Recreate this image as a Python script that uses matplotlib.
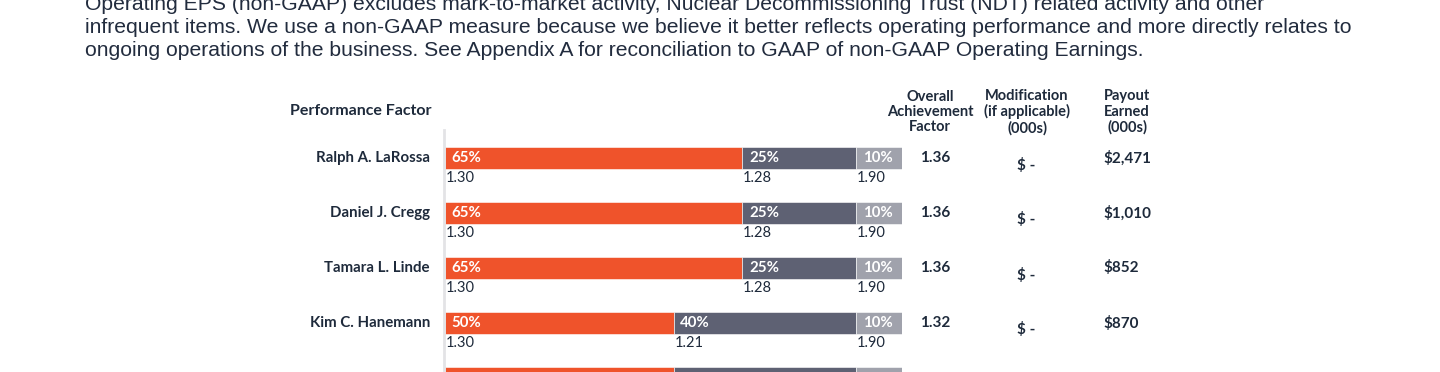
import matplotlib
matplotlib.use("Agg")
import matplotlib.pyplot as plt
import matplotlib.transforms as mtransforms

# --- data ---
intro_lines = [
    "Operating EPS (non-GAAP) excludes mark-to-market activity, Nuclear Decommissioning Trust (NDT) related activity and other",
    "infrequent items. We use a non-GAAP measure because we believe it better reflects operating performance and more directly relates to",
    "ongoing operations of the business. See Appendix A for reconciliation to GAAP of non-GAAP Operating Earnings.",
]
names = ["Ralph A. LaRossa", "Daniel J. Cregg", "Tamara L. Linde", "Kim C. Hanemann"]
# weights of the three performance measures (%), last row is cut off at the bottom
w_eps = [65, 65, 65, 50, 50]
w_mid = [25, 25, 25, 40, 40]
w_last = [10, 10, 10, 10, 10]
# achievement factors for each measure
f_eps = ["1.30", "1.30", "1.30", "1.30"]
f_mid = ["1.28", "1.28", "1.28", "1.21"]
f_last = ["1.90", "1.90", "1.90", "1.90"]
overall = ["1.36", "1.36", "1.36", "1.32"]
modification = ["$ -", "$ -", "$ -", "$ -"]
payout = ["$2,471", "$1,010", "$852", "$870"]

ORANGE = "#EF532B"
DARK = "#5E6173"
LIGHT = "#A0A2AC"
NAVY = "#1E2A3B"
W, H = 1440, 372

fig = plt.figure(figsize=(W / 100, H / 100), dpi=100)
fig.patch.set_facecolor("white")

# intro paragraph
for i, line in enumerate(intro_lines):
    fig.text(85 / W, 1 - (4 + 23.5 * i) / H, line, family="Liberation Sans",
             fontsize=15.2, color="#222C3E", va="center", ha="left")

# bar axes: x in percent, y in row index
top_px, bot_px, row0, step = 130, 372, 158, 55
ax = fig.add_axes([445 / W, 0, (902 - 445) / W, (bot_px - top_px) / H])
ax.set_xlim(0, 100)
ax.set_ylim((bot_px - row0) / step, (top_px - row0) / step)
for s in ["top", "right", "bottom"]:
    ax.spines[s].set_visible(False)
ax.spines["left"].set_color("#E3E3E6")
ax.spines["left"].set_linewidth(2)
ax.spines["left"].set_position(("outward", 1))
ax.set_xticks([])
ax.set_yticks([])

rows = list(range(len(w_eps)))
left_mid = [a for a in w_eps]
left_last = [a + b for a, b in zip(w_eps, w_mid)]
bh = 22 / step
ax.barh(rows, w_eps, height=bh, color=ORANGE, edgecolor="white", linewidth=0.4)
ax.barh(rows, w_mid, left=left_mid, height=bh, color=DARK, edgecolor="white", linewidth=0.4)
ax.barh(rows, w_last, left=left_last, height=bh, color=LIGHT, edgecolor="white", linewidth=0.4)

font = dict(family="Lato", color=NAVY)
for i in range(len(names)):
    starts = [0, left_mid[i], left_last[i]]
    pcts = [w_eps[i], w_mid[i], w_last[i]]
    for x0, p in zip(starts, pcts):
        ax.text(x0 + 1.5, i, f"{p}%", color="white", fontsize=10.8, fontweight="bold",
                family="Lato", va="center", ha="left")
    for x0, lab in zip(starts, [f_eps[i], f_mid[i], f_last[i]]):
        ax.text(x0 + 0.2, i + 20 / step, lab, fontsize=10.5, va="center", ha="left", **font)

# side columns
tr = mtransforms.blended_transform_factory(fig.transFigure, ax.transData)
for i, name in enumerate(names):
    ax.text(430 / W, i, name, transform=tr, ha="right", va="center",
            fontsize=10.8, fontweight="bold", **font)
    ax.text(920 / W, i, overall[i], transform=tr, ha="left", va="center",
            fontsize=11, fontweight="bold", **font)
    ax.text(1026 / W, i + 7 / step, modification[i], transform=tr, ha="center", va="center",
            fontsize=11, fontweight="bold", **font)
    ax.text(1103 / W, i, payout[i], transform=tr, ha="left", va="center",
            fontsize=11, fontweight="bold", **font)

# headers
fig.text(290 / W, 1 - 111 / H, "Performance Factor", ha="left", va="center",
         fontsize=11.5, fontweight="bold", **font)
headers = [("Overall\nAchievement\nFactor", 930),
           ("Modification\n(if applicable)\n(000s)", 1027),
           ("Payout\nEarned\n(000s)", 1127)]
for txt, xc in headers:
    fig.text(xc / W, 1 - 112 / H, txt, ha="center", va="center", linespacing=1.12,
             fontsize=10.5, fontweight="bold", **font)

fig.savefig("out.png", dpi=100, facecolor="white")
